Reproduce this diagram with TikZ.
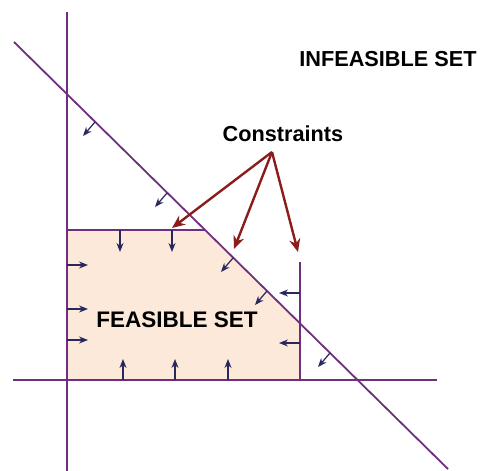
\documentclass[tikz,border=0pt]{standalone}
\usepackage{fontspec}
\setmainfont{Liberation Sans}
\usetikzlibrary{arrows.meta}
\definecolor{cline}{HTML}{6E2F7E}
\definecolor{carrow}{HTML}{28285E}
\definecolor{cred}{HTML}{8B1C1C}
\definecolor{cfill}{HTML}{FCE9D9}
\tikzset{
  axis/.style={draw=cline, line width=1.8pt},
  dirarrow/.style={draw=carrow, line width=1.2pt, -{Stealth[length=9pt,width=7pt]}},
  redarrow/.style={draw=cred, line width=2.4pt, -{Stealth[length=13pt,width=11pt]}},
  lbl/.style={font=\bfseries\fontsize{21.7}{24}\selectfont, inner sep=0pt}
}
\begin{document}
\begin{tikzpicture}[x=1pt,y=-1pt]
\useasboundingbox (0,0) rectangle (480,471);
% feasible region
\fill[cfill] (67,230) -- (205,230) -- (300,324) -- (300,380) -- (67,380) -- cycle;
% constraint lines
\coordinate (vT) at (67,12);
\coordinate (vB) at (67,471);
\coordinate (hL) at (13,380);
\coordinate (hR) at (437,380);
\coordinate (dT) at (14,42);
\coordinate (dB) at (448,469);
\coordinate (tL) at (67,230);
\coordinate (tR) at (205,230);
\coordinate (rT) at (300,262);
\coordinate (rB) at (300,380);
\draw[axis] (vT) -- (vB);
\draw[axis] (hL) -- (hR);
\draw[axis] (dT) -- (dB);
\draw[axis] (tL) -- (tR);
\draw[axis] (rT) -- (rB);
% direction arrows on diagonal
\foreach \x/\y in {95/122, 167/193, 233/258, 267/291, 330/353}
  \draw[dirarrow] (\x,\y) -- ++(-12,14);
% top edge arrows
\foreach \x in {120,172}
  \draw[dirarrow] (\x,230) -- ++(0,22);
% left edge arrows
\foreach \y in {265,309,340}
  \draw[dirarrow] (67,\y) -- ++(21,0);
% bottom edge arrows
\foreach \x in {123,175,228}
  \draw[dirarrow] (\x,380) -- ++(0,-21);
% right constraint arrows
\foreach \y in {293,343}
  \draw[dirarrow] (300,\y) -- ++(-21,0);
% labels
\node[lbl] (inf) at (388,59) {INFEASIBLE SET};
\node[lbl] (con) at (283,134) {Constraints};
\node[lbl, font=\bfseries\fontsize{22.5}{24}\selectfont] (fea) at (177,320) {FEASIBLE SET};
% red arrows
\coordinate (src) at (272,152);
\coordinate (e1) at (172,228);
\coordinate (e2) at (234,249);
\coordinate (e3) at (298,252);
\draw[redarrow] (src) -- (e1);
\draw[redarrow] (src) -- (e2);
\draw[redarrow] (src) -- (e3);
\end{tikzpicture}
\end{document}
